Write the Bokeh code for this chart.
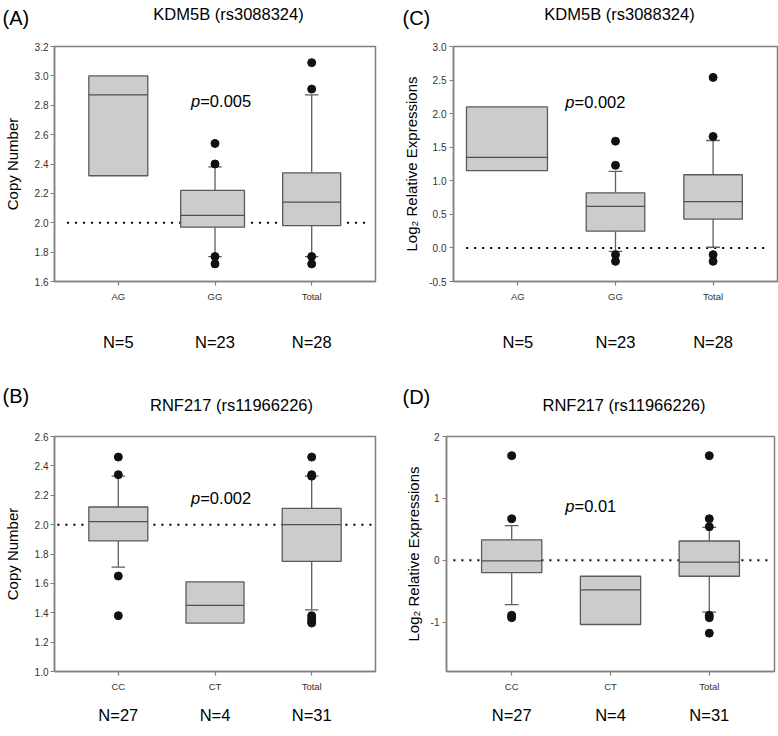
import math
from bokeh.plotting import figure
from bokeh.layouts import row, column
from bokeh.models import Label, FixedTicker, PrintfTickFormatter, Range1d, LinearAxis
from bokeh.embed import file_html
from bokeh.resources import INLINE

nan = float("nan")
FONT = "Liberation Sans"

# ---------------- data ----------------
# (A) KDM5B copy number
a_cats = ["AG", "GG", "Total"]
a_n = [5, 23, 28]
a_q1 = [2.32, 1.97, 1.98]
a_med = [2.87, 2.05, 2.14]
a_q3 = [3.00, 2.22, 2.34]
a_wlo = [nan, 1.77, 1.77]
a_whi = [nan, 2.38, 2.87]
a_out_cat = ["GG", "GG", "GG", "GG", "Total", "Total", "Total", "Total"]
a_out_val = [2.54, 2.40, 1.77, 1.72, 3.09, 2.91, 1.77, 1.72]
a_yticks = [1.6, 1.8, 2.0, 2.2, 2.4, 2.6, 2.8, 3.0, 3.2]
a_ref = 2.0
a_p = "0.005"

# (C) KDM5B expression
c_cats = ["AG", "GG", "Total"]
c_n = [5, 23, 28]
c_q1 = [1.15, 0.25, 0.43]
c_med = [1.35, 0.62, 0.69]
c_q3 = [2.10, 0.82, 1.09]
c_wlo = [nan, -0.05, 0.01]
c_whi = [nan, 1.14, 1.60]
c_out_cat = ["GG", "GG", "GG", "GG", "Total", "Total", "Total", "Total"]
c_out_val = [1.59, 1.23, -0.10, -0.20, 2.54, 1.66, -0.10, -0.20]
c_yticks = [-0.5, 0.0, 0.5, 1.0, 1.5, 2.0, 2.5, 3.0]
c_ref = 0.0
c_p = "0.002"

# (B) RNF217 copy number
b_cats = ["CC", "CT", "Total"]
b_n = [27, 4, 31]
b_q1 = [1.89, 1.33, 1.75]
b_med = [2.02, 1.45, 2.00]
b_q3 = [2.12, 1.61, 2.11]
b_wlo = [1.71, nan, 1.42]
b_whi = [2.33, nan, 2.33]
b_out_cat = ["CC", "CC", "CC", "CC", "Total", "Total", "Total", "Total", "Total", "Total", "Total"]
b_out_val = [2.46, 2.34, 1.65, 1.38, 2.46, 2.34, 2.33, 1.38, 1.36, 1.34, 1.33]
b_yticks = [1.0, 1.2, 1.4, 1.6, 1.8, 2.0, 2.2, 2.4, 2.6]
b_ref = 2.0
b_p = "0.002"

# (D) RNF217 expression
d_cats = ["CC", "CT", "Total"]
d_n = [27, 4, 31]
d_q1 = [-0.20, -1.04, -0.26]
d_med = [-0.01, -0.48, -0.03]
d_q3 = [0.33, -0.26, 0.31]
d_wlo = [-0.72, nan, -0.84]
d_whi = [0.56, nan, 0.53]
d_out_cat = ["CC", "CC", "CC", "CC", "Total", "Total", "Total", "Total", "Total", "Total"]
d_out_val = [1.69, 0.67, -0.89, -0.93, 1.69, 0.67, 0.54, -0.89, -0.93, -1.18]
d_yticks = [-1, 0, 1, 2]
d_ref = 0.0
d_p = "0.01"

tags = ["(A)", "(C)", "(B)", "(D)"]
titles = ["KDM5B (rs3088324)", "KDM5B (rs3088324)", "RNF217 (rs11966226)", "RNF217 (rs11966226)"]
ylabels = ["Copy Number", "Log\u2082 Relative Expressions", "Copy Number", "Log\u2082 Relative Expressions"]

# ---------------- layout / style ----------------
XR = (0.34, 3.66)
AC = "#808080"


def panel(ylabel, cats, n, q1, med, q3, wlo, whi, out_cat, out_val,
          yticks, ylim, yfmt, ref, ptxt, L):
    W, H = L["w"], L["h"]
    bl, br, bt, bb = L["border"]
    x0, x1 = XR
    y0, y1 = ylim
    p = figure(width=W, height=H, x_range=Range1d(x0, x1), y_range=Range1d(y0, y1),
               output_backend="svg", toolbar_location=None,
               min_border_left=bl, min_border_right=br,
               min_border_top=bt, min_border_bottom=bb)
    fl, fr, ft, fb = bl, W - br, bt, H - bb

    def dx(px):
        return x0 + (px - fl) / (fr - fl) * (x1 - x0)

    def dy(py):
        return y1 - (py - ft) / (fb - ft) * (y1 - y0)

    xs = [i + 1 for i in range(len(cats))]
    # reference dotted line
    p.line([L["ref_x"][0], L["ref_x"][1]], [ref, ref], line_dash="2 6",
           line_width=2, line_color="black", line_cap="butt")
    # whiskers
    wc = "#5e5e5e"
    p.segment(x0=xs, y0=q1, x1=xs, y1=wlo, line_color=wc, line_width=1.3)
    p.segment(x0=xs, y0=q3, x1=xs, y1=whi, line_color=wc, line_width=1.3)
    cw = 0.07
    p.segment(x0=[x - cw for x in xs], y0=wlo, x1=[x + cw for x in xs], y1=wlo,
              line_color=wc, line_width=1.3)
    p.segment(x0=[x - cw for x in xs], y0=whi, x1=[x + cw for x in xs], y1=whi,
              line_color=wc, line_width=1.3)
    # boxes
    lefts = [x - o for x, o in zip(xs, L["box_lo"])]
    rights = [x + o for x, o in zip(xs, L["box_hi"])]
    p.quad(left=lefts, right=rights, bottom=q1, top=q3, fill_color="#cccccc",
           line_color="#5a5a5a", line_width=1.3)
    p.segment(x0=lefts, y0=med, x1=rights, y1=med, line_color="#505050", line_width=1.3)
    # outliers
    p.scatter(x=[cats.index(c) + 1 for c in out_cat], y=out_val, size=8,
              fill_color="#111111", line_color="#111111")

    # axes
    for ax in (p.xaxis[0], p.yaxis[0]):
        ax.axis_line_color = AC
        ax.axis_line_width = 1.5
        ax.major_tick_line_color = AC
        ax.major_tick_line_width = 1.2
        ax.major_tick_out = 4
        ax.major_tick_in = 0
        ax.minor_tick_line_color = None
        ax.major_label_text_font = FONT
        ax.major_label_text_color = "#333333"
    p.xaxis.ticker = FixedTicker(ticks=xs)
    p.xaxis.major_label_overrides = {x: c for x, c in zip(xs, cats)}
    p.xaxis.major_label_text_font_size = "9.5px"
    p.xaxis.major_label_standoff = 5
    p.yaxis.ticker = FixedTicker(ticks=yticks)
    p.yaxis.formatter = PrintfTickFormatter(format=yfmt)
    p.yaxis.major_label_text_font_size = "10px"
    p.yaxis.major_label_standoff = L["tick_standoff"]
    p.yaxis.axis_label = ylabel
    p.yaxis.axis_label_text_font = FONT
    p.yaxis.axis_label_text_font_size = "15px"
    p.yaxis.axis_label_text_font_style = "normal"
    p.yaxis.axis_label_text_color = "black"
    p.yaxis.axis_label_standoff = L["ylab_standoff"]

    # N = ... row as a second, bare category axis below
    nax = LinearAxis(ticker=FixedTicker(ticks=xs),
                     major_label_overrides={x: "N=%d" % v for x, v in zip(xs, n)},
                     axis_line_color=None, major_tick_line_color=None,
                     minor_tick_line_color=None,
                     major_label_text_font=FONT, major_label_text_font_size="16.5px",
                     major_label_text_color="black", major_label_standoff=L["n_standoff"])
    p.add_layout(nax, "below")

    p.xgrid.visible = False
    p.ygrid.visible = False
    p.outline_line_color = AC
    p.outline_line_width = 1.5
    p.background_fill_color = "white"
    p.border_fill_color = "white"

    # p-value (inside the frame)
    p.add_layout(Label(x=dx(L["p"][0]), y=dy(L["p"][1]), text="p", text_font=FONT,
                       text_font_size="16.5px", text_font_style="italic",
                       text_align="right", text_baseline="alphabetic", text_color="black"))
    p.add_layout(Label(x=dx(L["p"][0]), y=dy(L["p"][1]), text="=" + ptxt, text_font=FONT,
                       text_font_size="16.5px", text_align="left",
                       text_baseline="alphabetic", text_color="black"))
    return p


def strip(W, H, items):
    s = figure(width=W, height=H, x_range=Range1d(0, W), y_range=Range1d(H, 0),
               output_backend="svg", toolbar_location=None,
               x_axis_type=None, y_axis_type=None,
               min_border_left=0, min_border_right=0, min_border_top=0, min_border_bottom=0)
    s.xgrid.visible = False
    s.ygrid.visible = False
    s.outline_line_color = None
    s.background_fill_color = "white"
    s.border_fill_color = "white"
    for txt, x, y, size, align in items:
        s.add_layout(Label(x=x, y=y, text=txt, text_font=FONT, text_font_size=size,
                           text_align=align, text_baseline="alphabetic", text_color="black"))
    return s


LA = dict(w=396, h=334, border=(49, 21, 10, 89), ref_x=(0.47, 3.56),
          box_lo=[0.305, 0.355, 0.30], box_hi=[0.305, 0.305, 0.30],
          p=(197, 64), tick_standoff=2, ylab_standoff=11, n_standoff=22)
LC = dict(w=382, h=334, border=(57, 1, 10, 89), ref_x=(0.47, 3.56),
          box_lo=[0.527, 0.30, 0.30], box_hi=[0.303, 0.30, 0.30],
          p=(178, 65.7), tick_standoff=3, ylab_standoff=6, n_standoff=22)
LB = dict(w=396, h=320, border=(49, 21, 20, 65), ref_x=(0.37, 3.63),
          box_lo=[0.305, 0.30, 0.305], box_hi=[0.305, 0.30, 0.305],
          p=(197, 81.3), tick_standoff=2, ylab_standoff=11, n_standoff=5)
LD = dict(w=382, h=320, border=(50, 4, 19, 65), ref_x=(0.41, 3.62),
          box_lo=[0.305, 0.305, 0.305], box_hi=[0.305, 0.305, 0.305],
          p=(178, 89), tick_standoff=3, ylab_standoff=6, n_standoff=5)

pA = panel(ylabels[0], a_cats, a_n, a_q1, a_med, a_q3, a_wlo, a_whi, a_out_cat, a_out_val,
           a_yticks, (1.6, 3.2), "%.1f", a_ref, a_p, LA)
pC = panel(ylabels[1], c_cats, c_n, c_q1, c_med, c_q3, c_wlo, c_whi, c_out_cat, c_out_val,
           c_yticks, (-0.5, 3.0), "%.1f", c_ref, c_p, LC)
pB = panel(ylabels[2], b_cats, b_n, b_q1, b_med, b_q3, b_wlo, b_whi, b_out_cat, b_out_val,
           b_yticks, (1.0, 2.6), "%.1f", b_ref, b_p, LB)
pD = panel(ylabels[3], d_cats, d_n, d_q1, d_med, d_q3, d_wlo, d_whi, d_out_cat, d_out_val,
           d_yticks, (-1.8, 2.0), "%d", d_ref, d_p, LD)

top = strip(778, 36, [(tags[0], 2, 17.5, "20px", "left"),
                      (titles[0], 228, 13, "16.5px", "center"),
                      (tags[1], 402, 17.5, "20px", "left"),
                      (titles[1], 619, 13, "16.5px", "center")])
mid = strip(778, 46, [(tags[2], 2, 25, "20px", "left"),
                      (titles[2], 231, 34, "16.5px", "center"),
                      (tags[3], 402, 26, "20px", "left"),
                      (titles[3], 623.5, 34, "16.5px", "center")])

layout = column(top, row(pA, pC), mid, row(pB, pD))
open("out.html", "w").write(file_html(layout, INLINE))
